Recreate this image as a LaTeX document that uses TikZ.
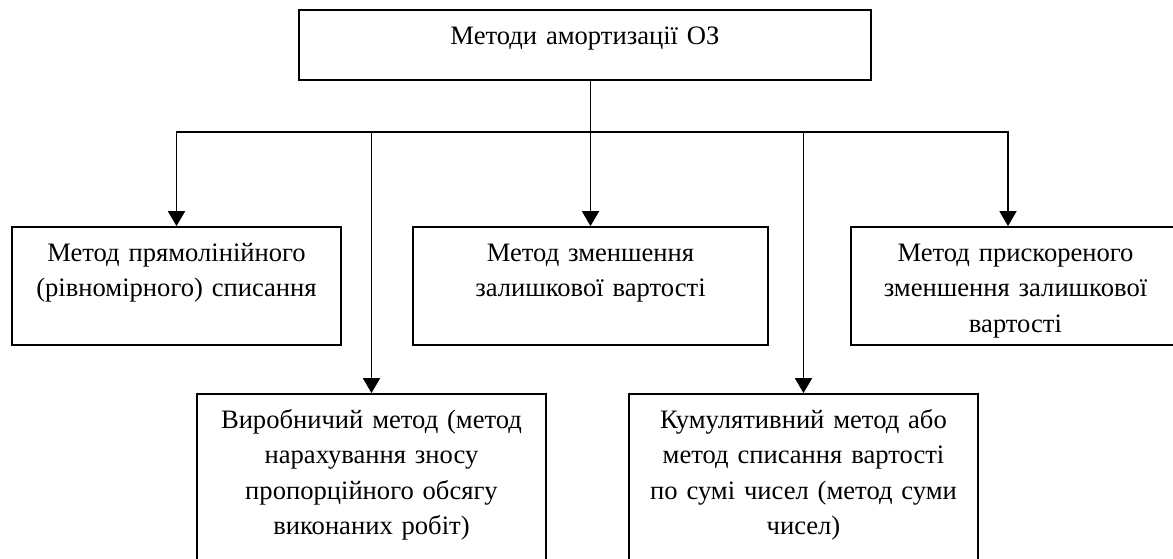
\documentclass[tikz,border=0pt]{standalone}
\usepackage{fontspec}
\setmainfont{Liberation Serif}
\usetikzlibrary{arrows.meta}

\begin{document}
\begin{tikzpicture}[x=0.5pt,y=-0.5pt,line join=miter,>={Triangle[length=7.5pt,width=8.5pt]},
  box/.style={draw,line width=0.9pt,inner sep=0pt},
  link/.style={line width=0.9pt,->},
  lbl/.style={anchor=base,align=center,inner sep=0pt,font=\fontsize{13.3}{17.75}\selectfont}]
  \useasboundingbox (0,0) rectangle (1173,558);
  \clip (0,0) rectangle (1173,558);
  % boxes
  \node[box,minimum width=286pt,minimum height=35pt] (top) at (585,45) {};
  \node[box,minimum width=164.5pt,minimum height=59pt] (linear) at (176.5,286) {};
  \node[box,minimum width=177.5pt,minimum height=59pt] (reduce) at (590.5,286) {};
  \node[box,minimum width=164.5pt,minimum height=59pt] (faster) at (1015.5,286) {};
  \node[box,minimum width=174.5pt,minimum height=90pt] (output) at (371.5,484) {};
  \node[box,minimum width=174.5pt,minimum height=90pt] (cumul) at (803.5,484) {};
  % texts
  \node[lbl,text width=280pt] (topText) at ([yshift=-17.5pt]top.north) {Методи амортизації ОЗ};
  \node[lbl,text width=160pt] (linearText) at ([yshift=-17.5pt]linear.north) {Метод прямолінійного\\(рівномірного) списання};
  \node[lbl,text width=170pt] (reduceText) at ([yshift=-17.5pt]reduce.north) {Метод зменшення\\залишкової вартості};
  \node[lbl,text width=160pt] (fasterText) at ([yshift=-17.5pt]faster.north) {Метод прискореного\\зменшення залишкової\\вартості};
  \node[lbl,text width=170pt] (outputText) at ([yshift=-17.5pt]output.north) {Виробничий метод (метод\\нарахування зносу\\пропорційного обсягу\\виконаних робіт)};
  \node[lbl,text width=170pt] (cumulText) at ([yshift=-17.5pt]cumul.north) {Кумулятивний метод або\\метод списання вартості\\по сумі чисел (метод суми\\чисел)};
  % connectors
  \coordinate (bus) at (590.5,132);
  \draw[link] (top.south -| reduce.north) -- (reduce.north);
  \draw[link] (bus) -| (linear.north);
  \draw[link] (bus) -| ([xshift=-3.75pt]faster.north);
  \draw[link] (bus -| output.north) -- (output.north);
  \draw[link] (bus -| cumul.north) -- (cumul.north);
\end{tikzpicture}
\end{document}
